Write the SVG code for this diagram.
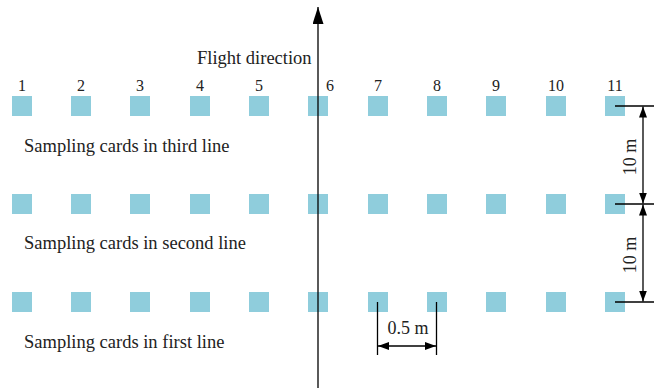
<svg xmlns="http://www.w3.org/2000/svg" width="654" height="388" viewBox="0 0 654 388">
  <style>
    .card { fill: #8fcddc; }
    .lbl { font-family: "Liberation Serif", "Times New Roman", serif; font-size: 18.5px; fill: #222; }
    .dim { font-family: "Liberation Serif", "Times New Roman", serif; font-size: 18px; fill: #222; text-anchor: middle; }
    .num { font-family: "Liberation Serif", "Times New Roman", serif; font-size: 16px; fill: #222; text-anchor: middle; }
    .ln { stroke: #000; stroke-width: 1.3; fill: none; }
  </style>
  <defs>
    <marker id="ah" viewBox="0 0 11 8" refX="11" refY="4" markerWidth="11" markerHeight="8" markerUnits="userSpaceOnUse" orient="auto-start-reverse">
      <path d="M0,0 L11,4 L0,8 z" fill="#000"/>
    </marker>
    <marker id="bigah" viewBox="0 0 17 11" refX="17" refY="5.5" markerWidth="17" markerHeight="11" markerUnits="userSpaceOnUse" orient="auto">
      <path d="M0,0 L17,5.5 L0,11 z" fill="#000"/>
    </marker>
    <rect id="sq" width="20" height="20" class="card"/>
  </defs>
  <rect width="654" height="388" fill="#fff"/>

  <!-- card numbers -->
  <g id="numbers">
    <text class="num" x="22" y="91">1</text>
    <text class="num" x="81" y="91">2</text>
    <text class="num" x="140" y="91">3</text>
    <text class="num" x="200" y="91">4</text>
    <text class="num" x="259" y="91">5</text>
    <text class="num" x="330" y="91">6</text>
    <text class="num" x="378" y="91">7</text>
    <text class="num" x="437" y="91">8</text>
    <text class="num" x="496" y="91">9</text>
    <text class="num" x="556" y="91">10</text>
    <text class="num" x="615" y="91">11</text>
  </g>

  <!-- third line of cards -->
  <g id="row3">
    <use href="#sq" x="12" y="96"/><use href="#sq" x="71" y="96"/><use href="#sq" x="130" y="96"/>
    <use href="#sq" x="190" y="96"/><use href="#sq" x="249" y="96"/><use href="#sq" x="308" y="96"/>
    <use href="#sq" x="368" y="96"/><use href="#sq" x="427" y="96"/><use href="#sq" x="486" y="96"/>
    <use href="#sq" x="546" y="96"/><use href="#sq" x="605" y="96"/>
  </g>
  <!-- second line of cards -->
  <g id="row2">
    <use href="#sq" x="12" y="194"/><use href="#sq" x="71" y="194"/><use href="#sq" x="130" y="194"/>
    <use href="#sq" x="190" y="194"/><use href="#sq" x="249" y="194"/><use href="#sq" x="308" y="194"/>
    <use href="#sq" x="368" y="194"/><use href="#sq" x="427" y="194"/><use href="#sq" x="486" y="194"/>
    <use href="#sq" x="546" y="194"/><use href="#sq" x="605" y="194"/>
  </g>
  <!-- first line of cards -->
  <g id="row1">
    <use href="#sq" x="12" y="292"/><use href="#sq" x="71" y="292"/><use href="#sq" x="130" y="292"/>
    <use href="#sq" x="190" y="292"/><use href="#sq" x="249" y="292"/><use href="#sq" x="308" y="292"/>
    <use href="#sq" x="368" y="292"/><use href="#sq" x="427" y="292"/><use href="#sq" x="486" y="292"/>
    <use href="#sq" x="546" y="292"/><use href="#sq" x="605" y="292"/>
  </g>

  <!-- row labels -->
  <g id="labels">
    <text class="lbl" x="24" y="152">Sampling cards in third line</text>
    <text class="lbl" x="24" y="249">Sampling cards in second line</text>
    <text class="lbl" x="24" y="348">Sampling cards in first line</text>
    <text class="lbl" x="197" y="64">Flight direction</text>
  </g>

  <!-- flight direction arrow and dimensions -->
  <g id="connectors">
    <line class="ln" x1="318" y1="388" x2="318" y2="7" stroke-width="1.5" marker-end="url(#bigah)"/>

    <!-- 10 m spacing between lines -->
    <line class="ln" x1="615" y1="106" x2="654" y2="106"/>
    <line class="ln" x1="615" y1="204" x2="654" y2="204"/>
    <line class="ln" x1="615" y1="302" x2="654" y2="302"/>
    <line class="ln" x1="643" y1="106.5" x2="643" y2="203.5" marker-start="url(#ah)" marker-end="url(#ah)"/>
    <line class="ln" x1="643" y1="204.5" x2="643" y2="301.5" marker-start="url(#ah)" marker-end="url(#ah)"/>

    <!-- 0.5 m spacing between cards -->
    <line class="ln" x1="377.5" y1="302" x2="377.5" y2="355"/>
    <line class="ln" x1="436.5" y1="302" x2="436.5" y2="355"/>
    <line class="ln" x1="378" y1="346" x2="436" y2="346" marker-start="url(#ah)" marker-end="url(#ah)"/>
  </g>

  <g id="dim-labels">
    <text class="dim" transform="translate(636,157) rotate(-90)">10 m</text>
    <text class="dim" transform="translate(636,255) rotate(-90)">10 m</text>
    <text class="dim" x="408" y="334">0.5 m</text>
  </g>
</svg>
